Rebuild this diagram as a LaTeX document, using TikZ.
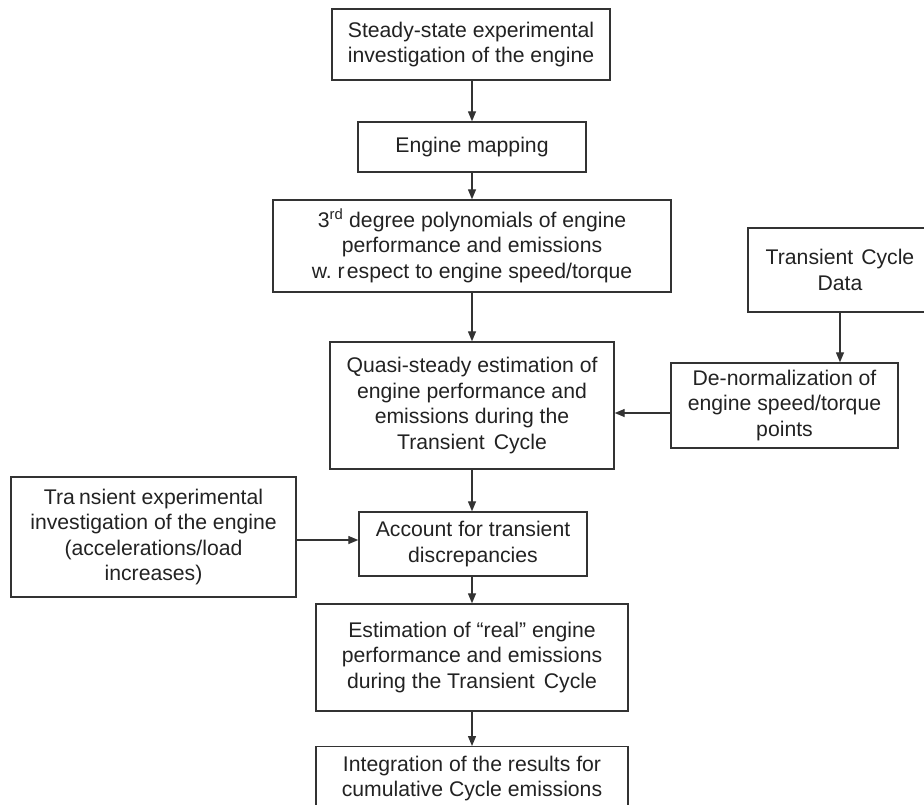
\documentclass[tikz,border=0pt]{standalone}
\usepackage{fontspec}
\setmainfont{Liberation Sans}
\usetikzlibrary{arrows.meta}
\definecolor{ln}{HTML}{333333}
\definecolor{tx}{HTML}{222222}
\tikzset{
  box/.style={draw=ln, line width=1.4pt, rectangle, inner sep=0pt, align=center, text=tx,
    font=\fontsize{21.2}{25.5}\selectfont},
  conn/.style={draw=ln, line width=1.3pt, -{Triangle[length=10pt,width=8pt]}}
}
\begin{document}
\begin{tikzpicture}[x=1pt,y=-1pt]
\useasboundingbox (0,0) rectangle (924,804);
\clip (0,0) rectangle (924,804);
\node[box, minimum width=278pt, minimum height=71pt] (b1) at (471,44.5) {Steady-state experimental\\investigation of the engine};
\node[box, minimum width=228pt, minimum height=50pt] (b2) at (472,147) {Engine mapping};
\node[box, minimum width=398pt, minimum height=92pt] (b3) at (472,246) {3\textsuperscript{rd} degree polynomials of engine\\performance and emissions\\w.\ r\kern0.1em espect to engine speed/torque};
\node[box, minimum width=284pt, minimum height=127pt] (q) at (472,405.5) {Quasi-steady estimation of\\engine performance and\\emissions during the\\Transient\kern0.15em\ Cycle};
\node[box, minimum width=184pt, minimum height=84pt] (tcd) at (840,270) {Transient\kern0.1em\ Cycle\\Data};
\node[box, minimum width=227pt, minimum height=85pt] (dn) at (784.5,405.5) {De-normalization of\\engine speed/torque\\points};
\node[box, minimum width=285pt, minimum height=120pt] (tr) at (153.5,537) {Tra\kern0.2em nsient experimental\\investigation of the engine\\(accelerations/load\\increases)};
\node[box, minimum width=228pt, minimum height=64pt] (acc) at (473,544) {Account for transient\\discrepancies};
\node[box, minimum width=312pt, minimum height=107pt] (est) at (472,657.5) {Estimation of “real” engine\\performance and emissions\\during the Transient\kern0.15em\ Cycle};
\node[box, minimum width=312pt, minimum height=64pt, anchor=north] (int) at (472,746) {Integration of the results for\\cumulative Cycle emissions};
\draw[conn] (b1.south -| b2.north) -- (b2.north);
\draw[conn] (b2.south) -- (b3.north);
\draw[conn] (b3.south) -- (q.north);
\draw[conn] (tcd.south) -- (tcd.south |- dn.north);
\draw[conn] ([yshift=-7.5pt]dn.west) -- ([yshift=-7.5pt]q.east);
\draw[conn] (q.south) -- (q.south |- acc.north);
\draw[conn] ([yshift=-3pt]tr.east) -- ([yshift=-3pt]tr.east -| acc.west);
\draw[conn] (acc.south -| est.north) -- (est.north);
\draw[conn] (est.south) -- (int.north);
\end{tikzpicture}
\end{document}
